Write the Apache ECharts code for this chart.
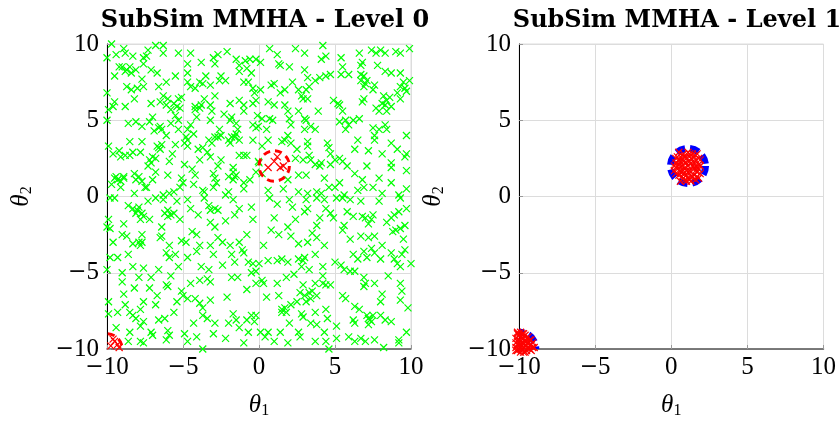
<!DOCTYPE html>
<html>
<head>
<meta charset="utf-8">
<script src="https://cdn.jsdelivr.net/npm/echarts@6/dist/echarts.min.js"></script>
<style>html,body{margin:0;padding:0;background:#fff}#c{width:839px;height:425px}</style>
</head>
<body>
<div id="c"></div>
<script>
// ---- data ----
const titles = ['SubSim MMHA - Level 0', 'SubSim MMHA - Level 1'];
const axisTicks = [-10, -5, 0, 5, 10];

// Level 0 samples (green crosses)
const level0Samples = [
[-9.7,10.0],[-8.9,9.7],[-8.8,9.4],[-9.4,9.3],[-8.3,9.2],[-6.8,9.9],[-6.3,9.9],[-6.3,9.4],[-5.3,9.4],[-7.3,9.6],[-7.6,9.1],[-7.6,8.7],[-10.0,9.1],[-9.0,8.5],[-8.8,8.2],[-8.4,8.1],[-8.1,8.3],[-9.5,7.9],[-7.1,8.3],[-6.7,8.1],[-5.5,7.9],[-6.1,7.5],[-6.6,7.2],[-7.7,7.7],[-7.6,7.2],[-8.7,7.2],[-8.4,7.0],[-8.2,6.4],[-10.0,6.8],[-9.5,6.2],[-9.6,5.9],[-8.8,5.9],[-7.1,6.1],[-6.5,6.2],[-6.0,6.4],[-6.1,6.0],[-5.8,5.7],[-5.3,6.4],[-5.1,6.5],[-5.2,5.8],[-5.5,5.3],[-10.0,5.0],[-8.6,4.8],[-8.1,4.9],[-7.7,4.6],[-7.2,4.9],[-7.0,5.2],[-6.6,4.5],[-6.4,4.4],[-6.1,4.0],[-5.8,4.8],[-5.3,5.0],[-5.3,4.4],[-4.7,4.4],[-4.5,4.7],
[-9.9,3.3],[-9.6,2.8],[-9.1,2.6],[-8.8,2.7],[-8.5,2.7],[-8.5,3.6],[-7.7,3.6],[-7.8,2.9],[-7.2,2.4],[-7.0,2.6],[-6.7,3.3],[-6.4,3.4],[-6.5,3.1],[-5.9,2.3],[-5.5,3.4],[-4.9,2.1],[-4.7,3.7],[-4.7,3.3],[-4.0,3.1],[-3.9,2.4],[-3.4,2.9],[-3.3,3.7],[-3.2,2.6],[-9.4,1.3],[-9.1,1.0],[-8.9,1.3],[-9.7,0.8],[-8.2,1.5],[-8.1,1.1],[-7.7,1.0],[-7.5,0.6],[-6.8,1.6],[-7.0,1.1],[-8.2,0.2],[-5.9,0.2],[-5.6,0.3],[-6.3,0.1],[-5.1,1.2],[-5.2,0.6],[-4.2,1.4],[-4.3,0.8],[-3.6,0.3],[-3.0,1.5],[-2.9,1.2],[-2.8,0.9],[-2.0,1.3],[-1.7,1.6],[-1.7,1.9],[-1.6,1.3],[-1.0,0.9],[-2.2,0.1],
[-4.5,9.4],[-4.7,8.7],[-4.7,8.1],[-4.7,7.5],[-4.5,7.2],[-4.2,7.1],[-3.9,7.5],[-3.7,7.4],[-3.2,7.3],[-3.0,9.1],[-2.9,8.7],[-2.7,9.3],[-2.1,9.5],[-2.5,7.9],[-2.2,7.6],[-2.6,7.6],[-1.5,9.0],[-1.3,8.6],[-0.8,8.4],[-0.6,9.0],[-0.5,8.1],[-1.0,7.5],[-0.7,7.5],[-0.2,9.0],[-0.4,7.1],[-0.3,6.8],[-0.2,6.3],[-0.4,6.1],[-1.0,6.0],[-1.9,6.1],[-1.0,5.6],[-1.8,5.2],[-1.9,5.0],[-1.5,4.8],[-1.4,4.4],[-1.6,3.9],[-1.9,3.5],[-1.3,3.7],[-1.0,2.7],[-1.3,2.7],[-0.4,4.7],[-0.4,3.7],[-0.04,4.6],[-0.2,1.6],[-0.04,2.3],[-4.2,5.9],[-4.2,5.7],[-3.9,5.8],[-3.6,6.4],[-3.8,6.0],[-3.2,6.0],[-3.1,5.6],[-4.1,5.2],[-3.2,5.0],[-2.6,4.4],[-2.7,3.9],
[-7.3,2.0],[-7.1,2.2],[-6.8,2.5],[-6.6,3.2],[-9.5,1.2],[-9.1,0.6],[-7.9,1.3],[-7.4,0.6],[-5.0,0.9],[-4.9,3.5],[-4.8,3.9],[-4.3,4.1],[-3.7,3.2],[-2.9,3.9],[-3.1,3.5],[-2.5,4.0],[-2.7,2.0],[-2.5,2.4],[-3.7,0.4],[-2.0,0.3],[-1.5,1.4],[-1.7,1.1],[-1.0,0.5],[-2.0,3.7],[-1.8,3.9],[-1.5,4.1],[-0.8,2.7],[-0.2,4.5],
[-9.2,8.5],[-8.7,8.3],[-8.5,8.5],[-6.3,6.6],[-5.6,6.1],[-5.4,5.9],[-9.3,1.1],[-8.9,1.2],[-6.5,4.6],[-6.9,4.3],[-8.0,7.1],[-7.4,9.2],[-9.9,5.7],[-9.2,3.0],[-8.3,2.9],[-3.5,7.9],[-3.8,8.8],[-1.3,8.2],[-0.9,8.9],[-0.1,5.3],[-2.3,5.4],[-2.9,6.6],[-1.3,6.3],[-5.7,2.8],[-4.4,1.8],[-3.0,0.6],[-0.6,1.1],[-6.0,1.4],
[0.7,9.7],[0.1,8.8],[2.4,9.7],[3.0,9.4],[4.2,9.9],[4.4,9.2],[4.1,9.0],[1.3,8.7],[1.4,8.6],[3.0,8.3],[4.7,8.0],[4.4,7.9],[4.0,7.8],[3.7,7.6],[3.2,7.8],[2.2,7.5],[1.0,7.4],[0.8,7.3],[1.7,7.0],[1.4,6.8],[2.6,7.0],[3.1,7.0],[2.9,6.4],[0.6,6.2],[1.0,6.0],[1.7,6.0],[1.9,5.6],[2.6,5.6],[3.9,5.6],[4.9,6.3],[5.2,6.1],[5.3,6.0],[0.1,7.0],[0.2,5.1],[0.7,5.1],[0.9,5.0],[2.0,5.1],[3.0,5.1],[3.1,5.0],[3.4,4.6],[3.7,4.4],[3.0,4.4],[2.1,4.7],[1.9,4.0],[1.7,3.7],[1.5,3.6],[2.1,3.5],[3.2,3.6],[3.2,3.3],[3.3,2.7],[3.4,2.4],[2.9,2.4],[3.7,2.1],[4.0,2.0],[4.1,2.2],[4.7,2.1],[4.5,3.5],[4.6,3.2],[4.7,2.8],[0.2,3.3],[0.6,3.7],[0.0,2.2],[2.4,2.5],[2.6,1.4],[3.1,1.4],[2.6,0.3],[3.2,0.2],[3.8,0.3],[4.1,0.2],[4.6,0.6],[1.9,1.1],[1.6,0.5],[0.2,1.5],
[5.4,9.1],[5.5,8.5],[5.4,8.0],[6.6,9.4],[6.8,8.8],[6.7,8.6],[7.4,9.6],[7.7,9.4],[8.0,9.6],[8.3,9.4],[9.0,9.5],[9.3,9.4],[9.9,9.7],[7.8,8.6],[8.3,8.2],[8.7,8.1],[9.3,8.1],[6.7,8.0],[6.7,7.6],[7.0,7.4],[6.9,7.2],[7.5,7.0],[7.6,7.3],[8.2,6.6],[8.4,6.3],[8.1,6.1],[8.7,5.9],[7.7,5.8],[7.9,5.6],[8.4,5.6],[6.8,6.2],[6.9,6.4],[9.3,7.2],[9.6,7.1],[9.7,6.9],[9.9,7.6],[9.3,6.4],[5.5,5.6],[5.3,4.9],[5.7,5.0],[6.2,5.0],[6.6,5.1],[5.7,4.4],[6.5,3.7],[7.5,4.5],[7.6,4.0],[7.9,4.4],[8.4,4.4],[8.3,4.7],[7.6,3.7],[8.7,3.5],[9.1,3.1],[9.7,4.0],[9.7,2.8],[9.6,2.6],[8.7,2.2],[8.7,1.9],[9.7,1.7],[5.3,2.5],[5.5,2.3],[5.0,2.4],[5.8,2.0],[6.3,1.5],[7.1,2.0],[6.8,1.1],[6.9,0.6],[6.5,0.4],[7.5,0.6],[8.1,0.2],[8.7,0.9],[9.7,0.5],[5.6,0.1],[5.0,0.6],
[2.8,6.6],[3.2,6.4],[3.3,7.2],[6.9,7.9],[7.1,7.6],[8.3,6.0],[8.6,6.5],[9.5,7.5],[9.1,6.8],[1.2,9.3],[2.0,8.5],[5.9,8.0],[6.3,3.1],[7.2,3.0],[8.1,2.8],[5.9,4.7],[0.5,4.4],[2.5,3.1],[4.3,1.2],[5.3,0.9],[9.2,0.1],[7.9,1.2],[0.6,0.4],
[-9.8,-0.1],[-9.5,-0.1],[-8.3,-0.8],[-7.9,-0.7],[-8.1,-1.1],[-7.6,-1.3],[-7.2,-1.5],[-7.8,-1.5],[-8.6,-0.6],[-7.3,-0.3],[-6.8,-0.1],[-6.3,-0.2],[-6.0,-0.9],[-6.2,-1.1],[-5.8,-1.2],[-5.4,-0.3],[-5.2,-1.5],[-9.9,-1.5],[-10.0,-2.0],[-9.8,-2.1],[-8.9,-1.8],[-9.0,-2.5],[-8.7,-2.6],[-8.3,-3.1],[-7.9,-3.0],[-7.8,-3.2],[-7.7,-2.5],[-6.5,-2.7],[-6.4,-2.6],[-6.4,-2.0],[-5.9,-3.2],[-6.1,-3.7],[-5.9,-4.0],[-5.5,-3.8],[-5.3,-4.6],[-8.6,-3.8],[-9.8,-4.0],[-9.3,-4.0],[-10.0,-4.8],[-8.3,-4.6],[-7.6,-4.7],[-6.6,-4.8],[-9.0,-5.0],[-7.9,-5.3],[-7.1,-5.3],[-7.2,-6.0],[-8.2,-6.0],[-8.9,-6.4],[-9.9,-6.9],[-9.9,-7.7],[-9.3,-7.6],[-8.8,-7.1],[-8.5,-7.6],[-8.3,-7.8],[-7.6,-6.9],[-6.8,-7.1],[-7.8,-7.4],[-7.6,-8.2],[-7.8,-8.5],[-6.6,-8.1],[-6.1,-5.8],[-6.0,-5.9],[-5.4,-6.9],[-5.1,-6.2],[-5.0,-6.5],[-7.1,-8.9],[-7.0,-9.1],[-6.0,-8.8],[-5.9,-9.1],[-6.2,-8.0],[-6.1,-9.4],[-8.5,-8.9],[-8.6,-9.5],[-7.8,-9.5],[-7.6,-9.6],[-4.9,-9.0],[-4.7,-9.5],
[-4.7,-0.2],[-4.5,-0.8],[-3.6,-0.1],[-3.3,-0.6],[-3.2,-0.9],[-2.9,-0.8],[-2.7,-0.9],[-3.2,-1.7],[-2.9,-2.0],[-1.7,-0.2],[-1.3,-0.8],[-1.6,-1.2],[-0.5,-0.7],[-0.4,-1.5],[-4.4,-2.3],[-4.1,-2.5],[-3.9,-3.2],[-4.8,-3.0],[-5.1,-2.9],[-2.7,-2.7],[-2.4,-3.0],[-3.2,-3.2],[-3.0,-3.8],[-1.9,-3.2],[-1.3,-3.0],[-1.1,-3.5],[-1.0,-3.7],[-1.8,-3.8],[-4.7,-4.0],[-4.1,-3.6],[-3.8,-4.6],[-3.3,-4.8],[-2.4,-4.5],[-1.6,-4.3],[-0.7,-4.3],[-0.4,-4.4],[-0.2,-4.9],[-0.5,-5.0],[-1.8,-5.3],[-1.4,-5.3],[-0.8,-6.1],[-0.2,-5.7],[-4.5,-5.7],[-3.9,-5.5],[-3.4,-5.4],[-3.2,-5.6],[-4.7,-6.7],[-4.2,-6.7],[-3.9,-7.0],[-3.7,-7.3],[-3.2,-6.8],[-2.1,-6.6],[-3.7,-7.8],[-3.4,-8.0],[-2.9,-8.3],[-2.0,-8.3],[-1.7,-7.7],[-1.5,-8.1],[-0.8,-8.1],[-0.5,-7.8],[-0.3,-8.2],[-0.7,-8.9],[-4.1,-9.2],[-3.7,-10.0],[-2.2,-9.3],[-1.3,-8.6],
[-8.0,-0.9],[-7.7,-1.1],[-6.0,-1.3],[-5.6,-1.1],[-7.7,-3.0],[-9.6,-3.0],[-9.0,-5.6],[-5.8,-5.2],[-6.7,-6.5],[-4.3,-8.3],[-3.0,-9.0],[-1.0,-9.6],[-0.8,-2.5],[-2.2,-1.6],[-4.0,-1.2],[-8.1,-8.0],[-9.4,-8.6],[-5.6,-7.6],
[0.7,-0.1],[1.2,-0.5],[2.0,-0.2],[2.2,-0.7],[3.1,-0.2],[3.2,-0.8],[3.0,-1.0],[3.8,-0.1],[4.3,-0.2],[4.7,-1.1],[4.9,-1.4],[4.4,-0.8],[2.4,-1.5],[1.9,-2.0],[3.8,-1.9],[3.5,-2.4],[3.8,-2.7],[3.2,-3.0],[4.3,-3.2],[2.6,-3.1],[2.1,-2.6],[0.8,-2.2],[1.3,-2.5],[0.3,-3.2],[0.6,-4.2],[1.2,-4.2],[1.5,-4.1],[1.9,-4.3],[2.6,-4.1],[2.9,-4.2],[3.0,-4.0],[3.7,-3.8],[2.8,-4.6],[3.3,-4.8],[4.2,-4.6],[5.0,-4.3],[0.0,-4.4],[0.2,-5.5],[0.3,-5.7],[1.2,-5.7],[1.8,-5.3],[2.9,-5.8],[3.7,-5.7],[4.2,-5.7],[4.4,-5.8],[4.7,-5.8],[4.2,-5.2],[3.5,-6.2],[3.8,-6.5],[3.4,-6.7],[3.1,-6.9],[2.5,-6.9],[2.1,-7.1],[1.5,-7.4],[1.8,-7.6],[1.3,-6.5],[2.8,-7.7],[2.9,-7.9],[3.7,-7.6],[4.4,-7.4],[4.5,-8.0],[3.4,-8.3],[3.8,-8.4],[2.0,-8.3],[0.6,-8.9],[0.1,-8.9],[0.4,-9.2],[1.0,-9.5],[1.4,-8.9],[2.6,-8.9],[2.7,-9.2],[1.9,-9.6],[3.7,-9.5],[4.4,-9.5],[4.6,-10.0],[-0.2,-7.8],
[5.1,-0.1],[5.5,-0.1],[6.0,-0.2],[6.7,-0.3],[7.9,-0.3],[9.3,-0.1],[9.7,-0.8],[5.6,-1.9],[5.5,-2.2],[6.2,-1.3],[6.8,-1.3],[7.0,-1.4],[7.2,-1.8],[7.4,-1.5],[7.5,-1.2],[8.4,-1.7],[8.7,-1.4],[8.9,-1.2],[9.2,-1.0],[8.8,-2.3],[9.0,-2.2],[9.3,-2.1],[9.6,-1.9],[6.7,-2.6],[7.2,-2.7],[7.6,-2.6],[8.1,-3.2],[7.4,-3.4],[6.9,-3.6],[6.2,-3.8],[6.5,-4.1],[7.1,-4.0],[7.6,-3.7],[8.0,-4.1],[8.7,-3.7],[8.9,-4.1],[9.1,-4.4],[9.3,-4.6],[9.4,-3.8],[10.0,-4.4],[9.6,-3.5],[5.4,-4.5],[5.6,-4.8],[6.0,-4.9],[6.3,-4.9],[6.9,-5.3],[7.0,-5.7],[6.9,-5.9],[7.6,-5.7],[8.1,-6.4],[9.3,-5.7],[9.4,-6.2],[9.3,-6.8],[5.5,-6.5],[5.7,-6.7],[6.3,-7.2],[6.6,-7.4],[6.2,-8.1],[6.3,-8.3],[7.2,-8.0],[7.4,-8.2],[7.5,-7.8],[7.2,-8.4],[8.0,-7.8],[8.3,-8.1],[8.7,-8.2],[9.7,-8.9],[9.2,-9.4],[9.2,-9.6],[5.9,-9.2],[6.3,-9.5],[6.7,-9.3],[7.0,-9.5],[7.6,-9.4],[8.2,-9.9],[5.1,-8.5],[5.1,-9.3],
[1.5,-7.6],[1.7,-7.3],[2.7,-6.3],[3.0,-6.5],[3.3,-6.3],[7.3,-8.1],[7.1,-7.8],[1.0,-1.4],[4.0,-1.4],[6.0,-2.8],[9.5,-2.8],[8.5,-5.2],[8.0,-6.9],[0.5,-6.6],[2.3,-5.1],[4.3,-8.9],[9.8,-7.3],[5.8,-1.0]
];

// Level 0 seeds (red crosses inside the red circles)
const level0Seeds = [[1.2,2.6],[0.6,1.9],[1.4,1.9],[1.6,2.0],[1.0,2.3],
  [-9.5,-9.5],[-9.75,-9.8],[-9.3,-9.7],[-9.6,-9.35],[-9.2,-9.9]];
// circles: [cx, cy, r]
const level0Circles = [[1.0, 2.0, 1.0], [-10.0, -10.0, 1.0]];

// Level 1 samples (red crosses)
const level1Samples = [
[0.3,2.5],[0.5,2.1],[0.6,1.6],[0.7,2.7],[0.8,2.3],[0.9,1.9],[1.0,2.5],[1.0,1.4],[1.1,2.0],[1.2,2.6],[1.2,1.7],[1.3,2.2],[1.4,1.3],[1.5,1.9],[1.6,2.4],[1.7,1.6],[0.4,1.8],[0.2,2.0],[0.5,2.9],[1.4,2.8],[1.8,2.1],[0.9,1.1],[1.3,1.0],[0.7,1.3],[1.9,1.5],[0.6,2.3],[1.1,2.9],[0.3,1.5],[1.6,1.1],[0.8,1.7],[1.2,2.3],[1.5,2.6],[0.9,2.2],[1.0,1.7],[1.7,2.8],[0.4,2.6],[1.9,2.4],[1.3,1.6],[0.6,1.0],[1.8,1.2],
[0.5,1.4],[0.8,1.2],[1.1,1.2],[1.5,1.4],[1.7,1.9],[1.8,2.5],[1.5,2.2],[1.3,2.5],[1.0,2.2],[0.7,2.0],[0.5,2.4],[0.3,2.2],[0.8,2.8],[1.2,2.8],[1.6,2.7],[1.9,2.0],[1.7,1.3],[1.2,1.1],[0.8,1.5],[0.6,1.7],[0.4,2.0],[1.1,1.6],[1.4,2.0],[0.9,2.6],[1.3,1.3],[1.6,1.7],[0.7,2.5],[1.0,1.0],[0.2,1.7],[1.8,1.8],
[-10.2,-9.3],[-10.1,-9.7],[-10.0,-9.1],[-9.9,-9.5],[-9.8,-10.0],[-9.7,-9.3],[-9.6,-9.8],[-9.5,-9.5],[-9.4,-9.9],[-9.3,-9.4],[-9.2,-9.7],[-9.9,-9.9],[-10.2,-9.9],[-10.1,-10.1],[-9.6,-9.1],[-9.4,-9.2],[-9.1,-9.9],[-9.8,-9.6],[-10.0,-9.4],[-9.5,-10.1],[-9.7,-10.2],[-9.3,-10.0],[-10.1,-9.5],[-9.9,-9.2],
[-10.2,-9.6],[-10.2,-10.1],[-10.0,-9.7],[-10.0,-10.0],[-9.9,-9.7],[-9.8,-9.3],[-9.7,-9.6],[-9.7,-9.9],[-9.6,-9.5],[-9.5,-9.8],[-9.4,-9.6],[-9.3,-9.8],[-9.2,-10.1],[-9.1,-9.6],[-9.0,-9.9],[-9.8,-9.0],[-10.1,-9.0],[-9.5,-9.3],[-9.2,-9.4],[-9.6,-10.2],[-9.9,-10.2],[-10.0,-9.6],[-9.8,-9.8],[-10.1,-8.9],[-9.9,-8.9],[-9.7,-9.0]
];
const level1Circles = [[1.1, 2.0, 1.15], [-9.95, -9.95, 1.05]];

// ---- chart ----
const chart = echarts.init(document.getElementById('c'), null, {renderer: 'canvas'});
const serif = 'Liberation Serif';
const cross = 'path://M0,0L10,10M10,0L0,10';
const fmt = v => (v < 0 ? '{m|\u2212}{d|' + Math.abs(v) + '}' : '{d|' + v + '}');
const tickRich = {m: {fontFamily: 'DejaVu Serif', fontSize: 22, color: '#000'},
                  d: {fontFamily: serif, fontSize: 25, color: '#000'}};
const nameRich = {a: {fontFamily: serif, fontStyle: 'italic', fontSize: 25, color: '#000'},
                  b: {fontFamily: serif, fontSize: 16, color: '#000', padding: [12, 0, 0, 0]}};

function xAx(gi) {
  return {
    gridIndex: gi, type: 'value', min: axisTicks[0], max: axisTicks[axisTicks.length - 1], interval: 5,
    name: '{a|θ}{b|1}', nameLocation: 'middle', nameGap: 42,
    nameTextStyle: {rich: nameRich},
    axisLine: {show: true, onZero: false, lineStyle: {color: '#555', width: 1.5}},
    axisTick: {show: true, inside: true, length: 4, lineStyle: {color: '#999'}},
    splitLine: {show: true, lineStyle: {color: '#dcdcdc', width: 1}},
    axisLabel: {margin: 6, formatter: fmt, rich: tickRich}
  };
}
function yAx(gi) {
  return {
    gridIndex: gi, type: 'value', min: axisTicks[0], max: axisTicks[axisTicks.length - 1], interval: 5,
    name: '{a|θ}{b|2}', nameLocation: 'middle', nameGap: 72, nameRotate: 90,
    nameTextStyle: {rich: nameRich},
    axisLine: {show: true, onZero: false, lineStyle: {color: '#000', width: 1}},
    axisTick: {show: true, inside: true, length: 4, lineStyle: {color: '#999'}},
    splitLine: {show: true, lineStyle: {color: '#dcdcdc', width: 1}},
    axisLabel: {margin: 8, formatter: fmt, rich: tickRich}
  };
}
function circleSeries(gi, data, color, width, dash, z) {
  return {
    type: 'custom', xAxisIndex: gi, yAxisIndex: gi, data: data, clip: true, z: z,
    renderItem: (params, api) => {
      const c = api.coord([api.value(0), api.value(1)]);
      const r = api.size([api.value(2), 0])[0];
      return {type: 'circle', shape: {cx: c[0], cy: c[1], r: r},
              style: {fill: 'none', stroke: color, lineWidth: width, lineDash: dash}};
    }
  };
}
function crossSeries(gi, data, color, z, w) {
  return {
    type: 'scatter', xAxisIndex: gi, yAxisIndex: gi, data: data, clip: false, z: z,
    symbol: cross, symbolSize: 7, animation: false, silent: true,
    itemStyle: {color: 'rgba(0,0,0,0)', borderColor: color, borderWidth: w, opacity: 1}
  };
}

chart.setOption({
  animation: false,
  backgroundColor: '#fff',
  title: [
    {text: titles[0], left: 260, top: 4, textAlign: 'center',
     textStyle: {fontFamily: 'DejaVu Serif', fontWeight: 'bold', fontSize: 24, color: '#000'}},
    {text: titles[1], left: 672, top: 4, textAlign: 'center',
     textStyle: {fontFamily: 'DejaVu Serif', fontWeight: 'bold', fontSize: 24, color: '#000'}}
  ],
  grid: [
    {left: 107, top: 44, width: 304, height: 305, show: true, borderColor: '#dcdcdc', borderWidth: 1},
    {left: 519, top: 44, width: 305, height: 305, show: true, borderColor: '#dcdcdc', borderWidth: 1}
  ],
  xAxis: [xAx(0), xAx(1)],
  yAxis: [yAx(0), yAx(1)],
  series: [
    crossSeries(0, level0Samples, '#00ff00', 2, 1.2),
    crossSeries(0, level0Seeds, '#ff0000', 3, 1.2),
    circleSeries(0, level0Circles, '#ff0000', 3, [7, 5], 4),
    circleSeries(1, level1Circles, '#0000ff', 7, [9, 5], 3),
    crossSeries(1, level1Samples, '#ff0000', 4, 1.2)
  ]
});
</script>
</body>
</html>
